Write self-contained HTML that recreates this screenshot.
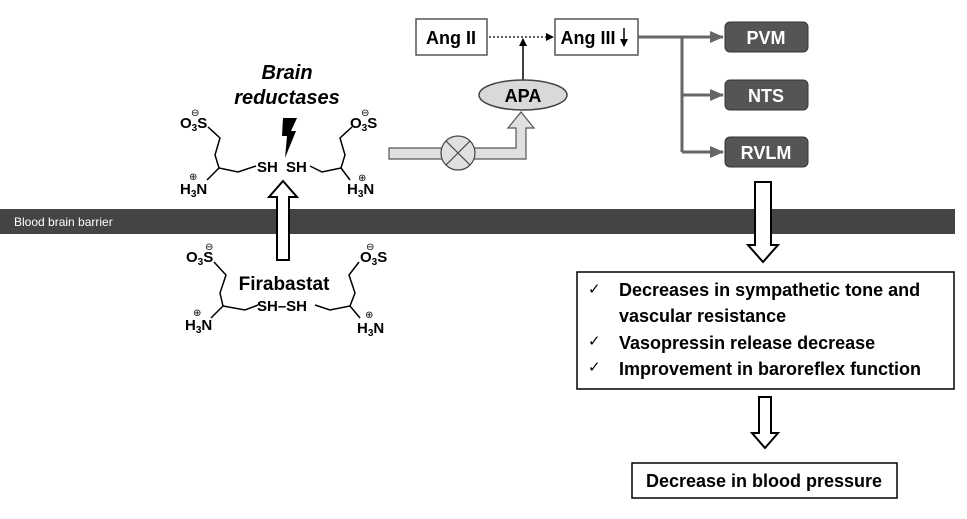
<!DOCTYPE html>
<html><head><style>
body{margin:0;background:#fff;width:967px;height:514px;overflow:hidden}
svg text{font-family:"Liberation Sans",sans-serif}
</style></head><body>
<svg width="967" height="514" viewBox="0 0 967 514" xmlns="http://www.w3.org/2000/svg">
<defs>
<marker id="ab" markerWidth="8" markerHeight="8" refX="7" refY="4" orient="auto" markerUnits="userSpaceOnUse"><path d="M0,0 L8,4 L0,8z" fill="#000"/></marker>
<marker id="ag" markerWidth="14" markerHeight="12" refX="13" refY="6" orient="auto" markerUnits="userSpaceOnUse"><path d="M0,0 L14,6 L0,12z" fill="#666"/></marker>
</defs>
<rect x="0" y="209" width="955" height="25" fill="#444"/>
<text x="14" y="226" font-size="12" fill="#fff">Blood brain barrier</text>

<rect x="416" y="19" width="71" height="36" fill="#fff" stroke="#555" stroke-width="1.5"/>
<text x="451" y="44" font-size="18" font-weight="bold" text-anchor="middle">Ang II</text>
<rect x="555" y="19" width="83" height="36" fill="#fff" stroke="#555" stroke-width="1.5"/>
<text x="588" y="44" font-size="18" font-weight="bold" text-anchor="middle">Ang III</text>
<line x1="624" y1="28" x2="624" y2="46" stroke="#000" stroke-width="1.5" marker-end="url(#ab)"/>
<line x1="489" y1="37" x2="553" y2="37" stroke="#000" stroke-width="1.2" stroke-dasharray="2,2" marker-end="url(#ab)"/>
<line x1="523" y1="80" x2="523" y2="39" stroke="#000" stroke-width="1.5" marker-end="url(#ab)"/>
<ellipse cx="523" cy="95" rx="44" ry="15" fill="#d9d9d9" stroke="#444" stroke-width="1.5"/>
<text x="523" y="102" font-size="18" font-weight="bold" text-anchor="middle">APA</text>

<g stroke="#666" stroke-width="3" fill="none">
<line x1="638" y1="37" x2="723" y2="37" marker-end="url(#ag)"/>
<line x1="682" y1="37" x2="682" y2="152"/>
<line x1="682" y1="95" x2="723" y2="95" marker-end="url(#ag)"/>
<line x1="682" y1="152" x2="723" y2="152" marker-end="url(#ag)"/>
</g>
<g fill="#555" stroke="#333">
<rect x="725" y="22" width="83" height="30" rx="5"/>
<rect x="725" y="80" width="83" height="30" rx="5"/>
<rect x="725" y="137" width="83" height="30" rx="5"/>
</g>
<g fill="#fff" font-size="18" font-weight="bold" text-anchor="middle">
<text x="766" y="44">PVM</text><text x="766" y="102">NTS</text><text x="766" y="159">RVLM</text>
</g>

<path d="M389,148 L516,148 L516,128 L508,128 L521,112 L534,128 L526,128 L526,159 L389,159z" fill="#e0e0e0" stroke="#555" stroke-width="1.2"/>
<circle cx="458" cy="153" r="17" fill="#e0e0e0" stroke="#444" stroke-width="1.2"/>
<path d="M446,141 L470,165 M470,141 L446,165" stroke="#444" stroke-width="1.2"/>

<path d="M755,182 L771,182 L771,245 L778,245 L763,262 L748,245 L755,245z" fill="#fff" stroke="#000" stroke-width="2"/>
<rect x="577" y="272" width="377" height="117" fill="#fff" stroke="#000" stroke-width="1.5"/>
<g font-size="18" font-weight="bold">
<text x="588" y="294" font-weight="normal" font-size="15">✓</text>
<text x="619" y="296">Decreases in sympathetic tone and</text>
<text x="619" y="322">vascular resistance</text>
<text x="588" y="346" font-weight="normal" font-size="15">✓</text>
<text x="619" y="349">Vasopressin release decrease</text>
<text x="588" y="372" font-weight="normal" font-size="15">✓</text>
<text x="619" y="375">Improvement in baroreflex function</text>
</g>
<path d="M759,397 L771,397 L771,433 L778,433 L765,448 L752,433 L759,433z" fill="#fff" stroke="#000" stroke-width="2"/>
<rect x="632" y="463" width="265" height="35" fill="#fff" stroke="#000" stroke-width="1.5"/>
<text x="764" y="487" font-size="18" font-weight="bold" text-anchor="middle">Decrease in blood pressure</text>

<!-- up arrow left -->
<path d="M277,260 L289,260 L289,197 L297,197 L283,181 L269,197 L277,197z" fill="#fff" stroke="#000" stroke-width="2"/>

<text x="287" y="79" font-size="20" font-weight="bold" font-style="italic" text-anchor="middle">Brain</text>
<text x="287" y="104" font-size="20" font-weight="bold" font-style="italic" text-anchor="middle">reductases</text>
<path d="M283,118 L297,118 L291,131 L296,131 L285,158 L287,136 L282,136z" fill="#000"/>
<g font-size="15" font-weight="bold">
<text x="180" y="128">O<tspan font-size="10" dy="3">3</tspan><tspan dy="-3">S</tspan></text>
<text x="350" y="128">O<tspan font-size="10" dy="3">3</tspan><tspan dy="-3">S</tspan></text>
<text x="180" y="194">H<tspan font-size="10" dy="3">3</tspan><tspan dy="-3">N</tspan></text>
<text x="347" y="194">H<tspan font-size="10" dy="3">3</tspan><tspan dy="-3">N</tspan></text>
<text x="257" y="172">SH</text><text x="286" y="172">SH</text>
</g>
<g font-size="10"><text x="191" y="116">⊖</text><text x="361" y="116">⊖</text><text x="189" y="180">⊕</text><text x="358" y="181">⊕</text></g>
<g stroke="#000" stroke-width="1.5" fill="none">
<path d="M208,127 L220,138 L215,155 L219,168 L238,172 L256,166"/>
<path d="M219,168 L207,180"/>
<path d="M352,127 L340,138 L345,155 L341,168 L322,172 L310,166"/>
<path d="M341,168 L350,180"/>
</g>

<text x="284" y="290" font-size="19" font-weight="bold" text-anchor="middle">Firabastat</text>
<g font-size="15" font-weight="bold">
<text x="186" y="262">O<tspan font-size="10" dy="3">3</tspan><tspan dy="-3">S</tspan></text>
<text x="360" y="262">O<tspan font-size="10" dy="3">3</tspan><tspan dy="-3">S</tspan></text>
<text x="185" y="330">H<tspan font-size="10" dy="3">3</tspan><tspan dy="-3">N</tspan></text>
<text x="357" y="333">H<tspan font-size="10" dy="3">3</tspan><tspan dy="-3">N</tspan></text>
<text x="257" y="311">SH–SH</text>
</g>
<g font-size="10"><text x="205" y="250">⊖</text><text x="366" y="250">⊖</text><text x="193" y="316">⊕</text><text x="365" y="318">⊕</text></g>
<g stroke="#000" stroke-width="1.5" fill="none">
<path d="M214,262 L226,275 L220,293 L223,306 L245,310 L258,305"/>
<path d="M223,306 L211,318"/>
<path d="M359,262 L349,275 L355,293 L350,306 L330,310 L315,305"/>
<path d="M350,306 L360,318"/>
</g>
</svg>
</body></html>
